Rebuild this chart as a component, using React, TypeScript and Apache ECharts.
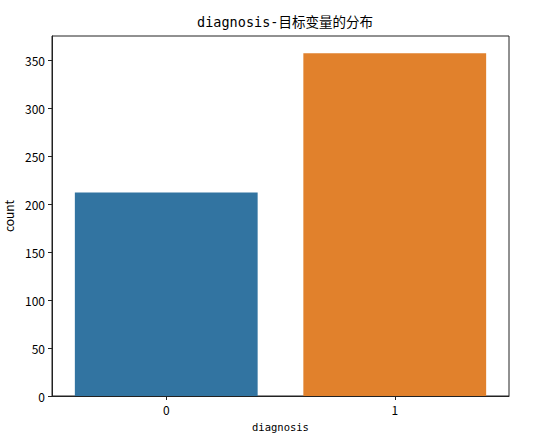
import React, { useEffect, useRef } from "react";
import * as echarts from "echarts";

const categories = ["0", "1"];
const counts = [212, 357];
const barColors = ["#3274a1", "#e1812c"];
const yTicks = [0, 50, 100, 150, 200, 250, 300, 350];

const MONO = "'DejaVu Sans Mono', 'Noto Sans CJK SC', monospace";
const SANS = "'Noto Sans CJK SC', 'DejaVu Sans', sans-serif";

export default function App() {
  const ref = useRef<HTMLDivElement>(null);
  useEffect(() => {
    document.body.style.margin = "0";
    const chart = echarts.init(ref.current!, null, { renderer: "svg" });
    chart.setOption({
      animation: false,
      backgroundColor: "#ffffff",
      title: {
        text: "diagnosis-目标变量的分布",
        left: 280,
        textAlign: "center",
        top: 10,
        textStyle: { fontFamily: MONO, fontSize: 13.5, fontWeight: "normal", color: "#000" },
      },
      grid: {
        left: 52,
        right: 45,
        top: 36,
        bottom: 47,
        outerBoundsMode: "none",
        containLabel: false,
        show: true,
        borderColor: "#222",
        borderWidth: 1,
        backgroundColor: "transparent",
      },
      xAxis: {
        type: "category",
        data: categories,
        boundaryGap: true,
        name: "diagnosis",
        nameLocation: "middle",
        nameGap: 26,
        nameTextStyle: { fontFamily: MONO, fontSize: 10.5, color: "#000" },
        axisLine: { show: true, lineStyle: { color: "#222", width: 1 } },
        axisTick: { show: true, alignWithLabel: true, length: 4, lineStyle: { color: "#222" } },
        axisLabel: { fontFamily: SANS, fontSize: 12, color: "#000", margin: 7 },
        splitLine: { show: false },
      },
      yAxis: {
        type: "value",
        min: 0,
        max: 375,
        interval: 25,
        name: "count",
        nameLocation: "middle",
        nameGap: 36,
        nameTextStyle: { fontFamily: SANS, fontSize: 12, color: "#000" },
        axisLine: { show: true, lineStyle: { color: "#222", width: 1 } },
        axisTick: { show: true, length: 4, lineStyle: { color: "#222" }, customValues: yTicks },
        axisLabel: {
          fontFamily: SANS,
          fontSize: 12,
          color: "#000",
          margin: 7,
          customValues: yTicks,
        },
        splitLine: { show: false },
      },
      series: [
        {
          type: "bar",
          barWidth: "80%",
          data: counts.map((v, i) => ({ value: v, itemStyle: { color: barColors[i] } })),
        },
      ],
    });
    return () => chart.dispose();
  }, []);
  return <div ref={ref} style={{ width: 554, height: 443 }} />;
}
